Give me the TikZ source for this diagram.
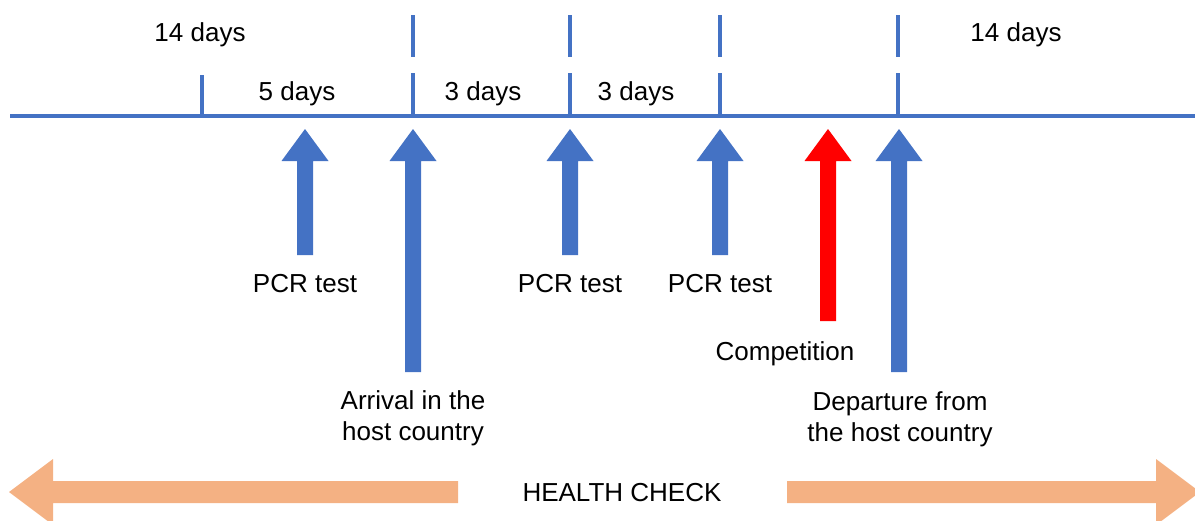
\documentclass[tikz,border=0pt]{standalone}
\usepackage{fontspec}
\setmainfont{Liberation Sans}
\usetikzlibrary{positioning}
\definecolor{lineblue}{RGB}{68,114,196}
\definecolor{compred}{RGB}{255,0,0}
\definecolor{checkorange}{RGB}{244,177,131}
\tikzset{
    timeline/.style={draw=lineblue, line width=3.4pt},
    tickmark/.style={draw=lineblue, line width=3.4pt},
    lbl/.style={font=\fontsize{18.5}{22}\selectfont, align=center, inner sep=0pt},
    checkarrow/.style={fill=checkorange}
}

\begin{document}
\begin{tikzpicture}[x=0.025cm, y=-0.025cm]
    \useasboundingbox (0,0) rectangle (1195,520);

    % Timeline
    \coordinate (tstart) at (10,116);
    \coordinate (tend) at (1195,116);
    \draw[timeline] (tstart) -- (tend);

    % Ticks
    \draw[tickmark] (202,75) -- (202,116);
    \foreach \x in {413,570,720,898} {
        \draw[tickmark] (\x,15) -- (\x,57);
        \draw[tickmark] (\x,73) -- (\x,116);
    }

    % Periods
    \node[lbl, anchor=base] (before) at (200,41) {14 days};
    \node[lbl, anchor=base] (five) at (297,100) {5 days};
    \node[lbl, anchor=base] (threea) at (483,100) {3 days};
    \node[lbl, anchor=base] (threeb) at (636,100) {3 days};
    \node[lbl, anchor=base] (after) at (1016,41) {14 days};

    % Event arrows
    \foreach \x/\b/\c in {305/255/lineblue, 413/372/lineblue, 570/255/lineblue, 720/255/lineblue, 828/321/compred, 899/372/lineblue}
        \fill[\c] (\x-8,\b) -- (\x-8,161) -- (\x-23.5,161) -- (\x,129) -- (\x+23.5,161) -- (\x+8,161) -- (\x+8,\b) -- cycle;

    % Events
    \node[lbl, anchor=base] (pcra) at (305,292) {PCR test};
    \node[lbl, anchor=base] (pcrb) at (570,292) {PCR test};
    \node[lbl, anchor=base] (pcrc) at (720,292) {PCR test};
    \node[lbl, anchor=base] (comp) at (785,360) {Competition};
    \node[lbl] (arrival) at (413,418) {Arrival in the\\host country};
    \node[lbl] (departure) at (900,419) {Departure from\\the host country};

    % Health check
    \node[lbl, anchor=base] (health) at (622,501) {HEALTH CHECK};
    \fill[checkarrow] (458,481) -- (53,481) -- (53,459) -- (9,492) -- (53,525) -- (53,503) -- (458,503) -- cycle;
    \fill[checkarrow] (787,481) -- (1156,481) -- (1156,459) -- (1200,492) -- (1156,525) -- (1156,503) -- (787,503) -- cycle;

\end{tikzpicture}
\end{document}
